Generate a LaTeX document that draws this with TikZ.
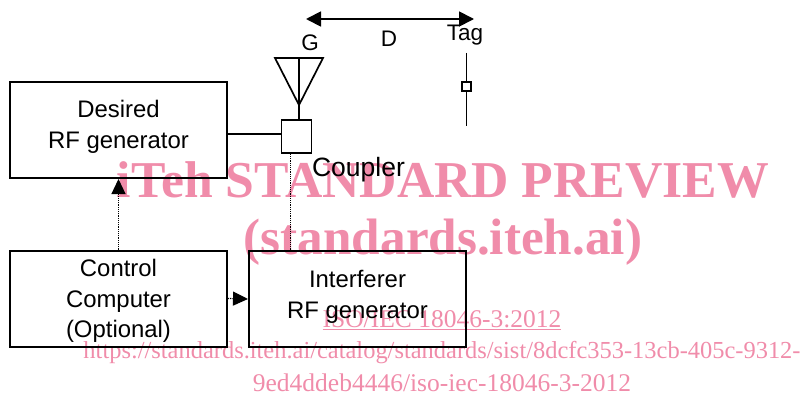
\documentclass[tikz,border=0pt]{standalone}
\usepackage{fontspec}
\setmainfont{Liberation Sans}
\newfontfamily\markfont{Liberation Serif}
\usetikzlibrary{arrows.meta}
\definecolor{markpink}{RGB}{240,140,170}
\tikzset{
    rfbox/.style={draw, line width=2pt, minimum width=217pt, minimum height=96pt, inner sep=0pt},
    boxtext/.style={font=\fontsize{23.9}{30.5}\selectfont, align=center, inner sep=0pt},
    smalltext/.style={font=\fontsize{22.5}{26}\selectfont, inner sep=0pt},
    ctrlarrow/.style={densely dotted, line width=1.2pt, -{Triangle[length=15pt,width=14pt]}},
    marktext/.style={font=\markfont\fontsize{25.5}{30}\selectfont, text=markpink, inner sep=0pt}
}

\begin{document}
\begin{tikzpicture}[x=1pt, y=-1pt]
        \useasboundingbox (0,0) rectangle (803,396);

        % Watermark goes first, the diagram sits on it
        \node[marktext, font=\markfont\bfseries\fontsize{51.7}{60}\selectfont] (markA) at (443,180) {iTeh STANDARD PREVIEW};
        \node[marktext, font=\markfont\bfseries\fontsize{51.2}{60}\selectfont] (markB) at (443,242) {(standards.iteh.ai)};
        \node[marktext] (markC) at (442,320) {\underline{ISO/IEC 18046-3:2012}};
        \node[marktext, font=\markfont\fontsize{24.45}{30}\selectfont] (markD) at (442,353) {https://standards.iteh.ai/catalog/standards/sist/8dcfc353-13cb-405c-9312-};
        \node[marktext] (markE) at (442,383) {9ed4ddeb4446/iso-iec-18046-3-2012};

        % The three boxes
        \node[rfbox] (desired) at (118.5,130) {};
        \node[rfbox] (control) at (118.5,298.5) {};
        \node[rfbox] (interferer) at (357.5,299) {};

        % Box texts
        \node[boxtext] (desiredtext) at (118.5,127) {Desired\\RF generator};
        \node[boxtext] (controltext) at (118.5,301) {Control\\Computer\\(Optional)};
        \node[boxtext] (interferertext) at (357.5,297) {Interferer\\RF generator};

        % Coupler and the antenna on top of it
        \node[draw, line width=1.7pt, minimum width=30pt, minimum height=33pt, inner sep=0pt] (coupler) at (296.5,136.5) {};
        \node[boxtext, font=\fontsize{26.5}{30}\selectfont] (couplertext) at (358.5,170) {Coupler};
        \coordinate (antL) at (275,58);
        \coordinate (antR) at (323,58);
        \coordinate (antB) at (299,105);
        \coordinate (antT) at (299,58);
        \coordinate (antS) at (299,120);
        \draw[line width=1.7pt, line join=miter] (antL) -- (antR) -- (antB) -- cycle;
        \draw[line width=1.7pt] (antT) -- (antS);
        \draw[line width=1.7pt] (desired.east |- coupler.170) -- (coupler.170);

        % Tag with its small square
        \coordinate (tagT) at (466.5,53);
        \coordinate (tagB) at (466.5,126);
        \draw[line width=1.7pt] (tagT) -- (tagB);
        \node[draw, fill=white, line width=1.5pt, minimum size=9pt, inner sep=0pt] (tagbox) at (466.5,86.5) {};
        \node[smalltext] (taglabel) at (465,35) {Tag};

        % Distance
        \coordinate (distL) at (306,19);
        \coordinate (distR) at (474,19);
        \draw[line width=1.8pt, {Triangle[length=15pt,width=15pt]}-{Triangle[length=15pt,width=15pt]}] (distL) -- (distR);
        \node[smalltext] (glabel) at (310,43) {G};
        \node[smalltext] (dlabel) at (389,39) {D};

        % Dotted control lines
        \draw[ctrlarrow] (control.north) -- (desired.south);
        \draw[ctrlarrow] (control.east) -- (interferer.west);
        \draw[densely dotted, line width=1.2pt] (coupler.250) -- (coupler.250 |- interferer.north);
    \end{tikzpicture}
\end{document}
